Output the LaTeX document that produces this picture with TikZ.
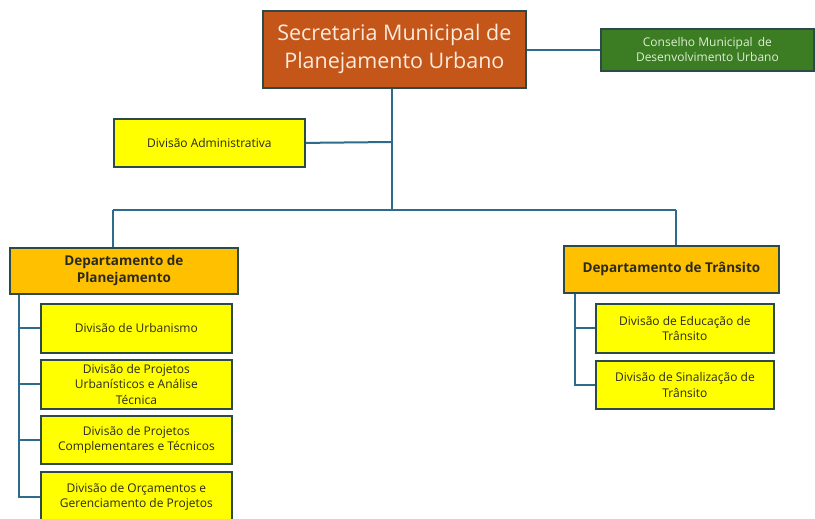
\documentclass[tikz,border=0pt]{standalone}
\usepackage{fontspec}
\setmainfont{Open Sans}
\definecolor{linkblue}{HTML}{2E6A8A}
\definecolor{edge}{HTML}{2B4A48}
\definecolor{rust}{HTML}{C4561A}
\definecolor{leaf}{HTML}{3C7D23}
\definecolor{dept}{HTML}{FFC000}
\definecolor{unit}{HTML}{FFFF00}
\definecolor{ink}{HTML}{2A2A1E}
\definecolor{cream}{HTML}{FBEBDD}
\definecolor{mint}{HTML}{DCEFD2}
\tikzset{
  box/.style={draw=edge, line width=1.8pt, inner sep=0pt, align=center, anchor=north west, text=ink},
  topbox/.style={box, fill=rust, text=cream, font=\fontsize{21.5}{28}\selectfont},
  councilbox/.style={box, fill=leaf, text=mint, font=\fontsize{12}{15}\selectfont},
  deptbox/.style={box, fill=dept, font=\bfseries\fontsize{13.5}{17}\selectfont},
  unitbox/.style={box, fill=unit, font=\fontsize{12}{15.5}\selectfont},
  link/.style={draw=linkblue, line width=2pt}
}
\begin{document}
\begin{tikzpicture}[x=1pt,y=-1pt]
\useasboundingbox (0,0) rectangle (815,519);
\begin{scope}
\clip (0,0) rectangle (815,519);

% top level
\node[topbox, minimum width=263, minimum height=77] (sec) at (262,10)
  {Secretaria Municipal de\\Planejamento Urbano};
\node[councilbox, minimum width=213, minimum height=42] (con) at (600,28)
  {Conselho Municipal\, de\\Desenvolvimento Urbano};
\node[unitbox, minimum width=191, minimum height=48] (adm) at (113,118)
  {Divisão Administrativa};

% departments
\node[deptbox, minimum width=228, minimum height=46] (dp) at (9,247)
  {Departamento de\\Planejamento};
\node[deptbox, minimum width=215, minimum height=47] (dt) at (563,245)
  {Departamento de Trânsito};

% planning divisions
\node[unitbox, minimum width=191, minimum height=49] (p1) at (40,303)
  {Divisão de Urbanismo};
\node[unitbox, minimum width=191, minimum height=49] (p2) at (40,359)
  {Divisão de Projetos\\Urbanísticos e Análise\\Técnica};
\node[unitbox, minimum width=191, minimum height=48] (p3) at (40,415)
  {Divisão de Projetos\\Complementares e Técnicos};
\node[unitbox, minimum width=191, minimum height=50] (p4) at (40,471)
  {Divisão de Orçamentos e\\Gerenciamento de Projetos};

% traffic divisions
\node[unitbox, minimum width=178, minimum height=49] (r1) at (595,303)
  {Divisão de Educação de\\Trânsito};
\node[unitbox, minimum width=178, minimum height=48] (r2) at (595,360)
  {Divisão de Sinalização de\\Trânsito};
\end{scope}

% junction points of the tree
\coordinate (t1) at (392,142);
\coordinate (t2) at (392,210);
\coordinate (l0) at (113,210);
\coordinate (r0) at (676,210);
\coordinate (pl) at (19,0);
\coordinate (pr) at (575,0);

% connectors
\path[link] (sec.east |- con.west) -- (con.west);
\path[link] (sec.south -| t1) -- (t2);
\path[link] (adm.east) -- (t1);
\path[link] (l0) -- (r0);
\path[link] (l0) -- (l0 |- dp.north);
\path[link] (r0) -- (r0 |- dt.north);
\path[link] (dp.south -| pl) -- (pl |- p4.west) -- (p4.west);
\path[link] (pl |- p1.west) -- (p1.west);
\path[link] (pl |- p2.west) -- (p2.west);
\path[link] (pl |- p3.west) -- (p3.west);
\path[link] (dt.south -| pr) -- (pr |- r2.west) -- (r2.west);
\path[link] (pr |- r1.west) -- (r1.west);
\end{tikzpicture}
\end{document}
